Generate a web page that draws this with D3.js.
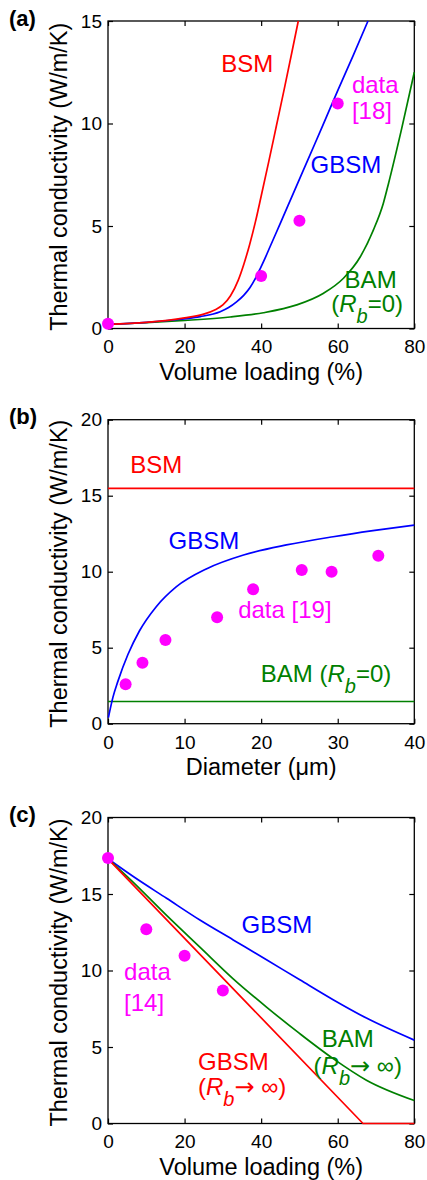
<!DOCTYPE html>
<html>
<head>
<meta charset="utf-8">
<script src="https://cdn.jsdelivr.net/npm/d3@7"></script>
<style>
  body { margin: 0; background: #fff; }
  svg { display: block; font-family: "Liberation Sans", Arial, Helvetica, sans-serif; }
</style>
</head>
<body>
<svg id="chart" width="427" height="1180"></svg>
<script>
// ---- values ----

// (a) thermal conductivity vs volume loading
const aXTicks = [0, 20, 40, 60, 80]
const aYTicks = [0, 5, 10, 15]
const aBsmX = [0, 10, 20, 25, 28, 30, 32, 34, 35.5, 37, 38.5, 40, 42, 44, 46, 48, 49.7]
const aBsmY = [0.2, 0.3, 0.52, 0.7, 0.92, 1.15, 1.6, 2.35, 3.15, 4.1, 5.2, 6.45, 8.15, 9.9, 11.65, 13.45, 15.0]
const aGbsmX = [0, 10, 18.9, 24.1, 29.3, 31.5, 33.65, 35.5, 37.1, 38.5, 39.7, 41, 42.35, 45, 48, 51, 54, 57, 60, 64, 67.9]
const aGbsmY = [0.2, 0.3, 0.45, 0.58, 0.82, 1.02, 1.31, 1.63, 2.0, 2.45, 2.9, 3.42, 4.0, 5.13, 6.42, 7.71, 9.0, 10.3, 11.6, 13.3, 15.0]
const aBamX = [0, 10, 18.9, 31.9, 40.6, 49.3, 56.3, 61.5, 65.9, 69.3, 71.9, 73.3, 76.7, 80]
const aBamY = [0.2, 0.28, 0.38, 0.56, 0.77, 1.15, 1.72, 2.45, 3.5, 4.8, 6.1, 7.1, 9.75, 12.5]
const aDataX = [0, 40, 50, 60]
const aDataY = [0.23, 2.56, 5.26, 10.97]

// (b) thermal conductivity vs diameter
const bXTicks = [0, 10, 20, 30, 40]
const bYTicks = [0, 5, 10, 15, 20]
const bBsmX = [0, 40]
const bBsmY = [15.48, 15.48]
const bGbsmX = [0.05, 0.65, 1.3, 2.6, 4.1, 6.3, 8.9, 12.9, 17.7, 23.3, 29.4, 34.6, 40]
const bGbsmY = [0.4, 1.75, 2.8, 4.55, 6.1, 7.7, 9.0, 10.2, 11.1, 11.76, 12.3, 12.7, 13.07]
const bBamX = [0, 40]
const bBamY = [1.46, 1.46]
const bDataX = [2.3, 4.5, 7.5, 14.25, 18.95, 25.3, 29.2, 35.3]
const bDataY = [2.59, 4.01, 5.51, 7.0, 8.84, 10.11, 10.0, 11.05]

// (c) thermal conductivity vs volume loading (insulating particles)
const cXTicks = [0, 20, 40, 60, 80]
const cYTicks = [0, 5, 10, 15, 20]
const cGbsmX = [0, 6.6, 15.3, 24.0, 32.7, 41.4, 50.1, 58.8, 67.5, 80]
const cGbsmY = [17.3, 16.14, 14.72, 13.3, 12.0, 10.7, 9.39, 8.09, 6.89, 5.45]
const cBamX = [0, 6.6, 15.3, 24.0, 32.7, 41.4, 50.1, 58.8, 67.5, 80]
const cBamY = [17.3, 15.76, 13.6, 11.53, 9.46, 7.61, 5.87, 4.24, 2.83, 1.5]
const cGbsmInfX = [0, 66.6, 80]
const cGbsmInfY = [17.3, 0, 0]
const cDataX = [0, 10, 20, 30]
const cDataY = [17.35, 12.7, 10.96, 8.7]

// ---- styling / layout ----
const RED = '#ff0000', BLUE = '#0000ff', GREEN = '#008000', MAGENTA = '#ff00ff'
const LEFT = 108, RIGHT = 414.3
const TICK_FONT = 19, TITLE_FONT = 23.5, NOTE_FONT = 24

const zip = (xs, ys) => xs.map((x, i) => ({ x, y: ys[i] }))

const panels = [
  {
    label: '(a)', top: 21, bottom: 328.5, xDomain: [0, 80], yDomain: [0, 15],
    xTicks: aXTicks, yTicks: aYTicks, xTitle: 'Volume loading (%)',
    series: [
      { pts: zip(aBamX, aBamY), color: GREEN },
      { pts: zip(aGbsmX, aGbsmY), color: BLUE },
      { pts: zip(aBsmX, aBsmY), color: RED }
    ],
    dots: zip(aDataX, aDataY),
    notes: [
      { x: 29.6, y: 12.53, text: 'BSM', color: RED },
      { x: 63.7, y: 11.5, text: 'data', color: MAGENTA },
      { x: 63.7, y: 10.2, text: '[18]', color: MAGENTA },
      { x: 52.9, y: 7.6, text: 'GBSM', color: BLUE },
      { x: 61.8, y: 1.96, text: 'BAM', color: GREEN },
      { x: 58.3, y: 0.82, rb: '=0)', color: GREEN }
    ]
  },
  {
    label: '(b)', top: 419.7, bottom: 723.7, xDomain: [0, 40], yDomain: [0, 20],
    xTicks: bXTicks, yTicks: bYTicks, xTitle: 'Diameter (\u03bcm)',
    series: [
      { pts: zip(bBsmX, bBsmY), color: RED },
      { pts: zip(bBamX, bBamY), color: GREEN },
      { pts: zip(bGbsmX, bGbsmY), color: BLUE }
    ],
    dots: zip(bDataX, bDataY),
    notes: [
      { x: 2.9, y: 16.47, text: 'BSM', color: RED },
      { x: 7.9, y: 11.47, text: 'GBSM', color: BLUE },
      { x: 17.0, y: 6.93, text: 'data [19]', color: MAGENTA },
      { x: 19.95, y: 2.76, text: 'BAM ', rb: '=0)', color: GREEN }
    ]
  },
  {
    label: '(c)', top: 817.5, bottom: 1123.5, xDomain: [0, 80], yDomain: [0, 20],
    xTicks: cXTicks, yTicks: cYTicks, xTitle: 'Volume loading (%)',
    series: [
      { pts: zip(cGbsmX, cGbsmY), color: BLUE },
      { pts: zip(cBamX, cBamY), color: GREEN },
      { pts: zip(cGbsmInfX, cGbsmInfY), color: RED, linear: true }
    ],
    dots: zip(cDataX, cDataY),
    notes: [
      { x: 34.9, y: 12.44, text: 'GBSM', color: BLUE },
      { x: 4.2, y: 9.39, text: 'data', color: MAGENTA },
      { x: 4.2, y: 7.33, text: '[14]', color: MAGENTA },
      { x: 55.8, y: 4.98, text: 'BAM', color: GREEN },
      { x: 53.7, y: 3.25, rb: 'arrow', color: GREEN },
      { x: 23.5, y: 3.5, text: 'GBSM', color: RED },
      { x: 23.5, y: 1.86, rb: 'arrow', color: RED }
    ]
  }
]

const svg = d3.select('#chart')
svg.append('rect').attr('width', 427).attr('height', 1180).attr('fill', '#fff')

function drawNote(g, n, x, y) {
  const t = g.append('text')
    .attr('x', x(n.x))
    .attr('y', y(n.y))
    .attr('fill', n.color)
    .style('font-size', NOTE_FONT + 'px')
  if (n.text) t.append('tspan').text(n.text)
  if (n.rb) {
    t.append('tspan').text('(')
    t.append('tspan').style('font-style', 'italic').text('R')
    t.append('tspan').style('font-style', 'italic').style('font-size', '20px').attr('dy', 11).text('b')
    if (n.rb === 'arrow') {
      t.append('tspan').attr('dy', -11).style('font-family', '"DejaVu Sans"').text('\u2192')
      t.append('tspan').text(' \u221e)')
    } else {
      t.append('tspan').attr('dy', -11).text(n.rb)
    }
  }
}

panels.forEach(p => {
  const x = d3.scaleLinear().domain(p.xDomain).range([LEFT, RIGHT])
  const y = d3.scaleLinear().domain(p.yDomain).range([p.bottom, p.top])
  const g = svg.append('g')

  // axes: inward ticks on all four sides
  const styleAxis = sel => {
    sel.attr('font-family', null).attr('font-size', null)
    sel.select('.domain').remove()
    sel.selectAll('line').attr('stroke', '#000').attr('stroke-width', 1.2)
    sel.selectAll('text').attr('fill', '#000').style('font-size', TICK_FONT + 'px')
  }
  g.append('g').attr('transform', `translate(0,${p.bottom})`)
    .call(d3.axisBottom(x).tickValues(p.xTicks).tickSize(-5).tickPadding(11.5))
    .call(styleAxis)
  g.append('g').attr('transform', `translate(0,${p.top})`)
    .call(d3.axisTop(x).tickValues(p.xTicks).tickSize(-5).tickFormat(''))
    .call(styleAxis)
  g.append('g').attr('transform', `translate(${LEFT},0)`)
    .call(d3.axisLeft(y).tickValues(p.yTicks).tickSize(-5).tickPadding(6))
    .call(styleAxis)
  g.append('g').attr('transform', `translate(${RIGHT},0)`)
    .call(d3.axisRight(y).tickValues(p.yTicks).tickSize(-5).tickFormat(''))
    .call(styleAxis)

  g.append('rect')
    .attr('x', LEFT).attr('y', p.top)
    .attr('width', RIGHT - LEFT).attr('height', p.bottom - p.top)
    .attr('fill', 'none').attr('stroke', '#000').attr('stroke-width', 1.3)

  // axis titles
  g.append('text')
    .attr('x', (LEFT + RIGHT) / 2)
    .attr('y', p.bottom + 51.5)
    .attr('text-anchor', 'middle')
    .style('font-size', TITLE_FONT + 'px')
    .text(p.xTitle)
  g.append('text')
    .attr('transform', `translate(67,${(p.top + p.bottom) / 2 + 2}) rotate(-90)`)
    .attr('text-anchor', 'middle')
    .style('font-size', TITLE_FONT + 'px')
    .text('Thermal conductivity (W/m/K)')

  g.append('text')
    .attr('x', 9).attr('y', p.top + 4.5)
    .style('font-size', '22px').style('font-weight', 'bold')
    .text(p.label)

  // model curves
  p.series.forEach(s => {
    const line = d3.line()
      .x(d => x(d.x))
      .y(d => y(d.y))
      .curve(s.linear ? d3.curveLinear : d3.curveMonotoneX)
    g.append('path')
      .datum(s.pts)
      .attr('d', line)
      .attr('fill', 'none')
      .attr('stroke', s.color)
      .attr('stroke-width', 1.7)
  })

  // measured data
  g.selectAll('circle.pt')
    .data(p.dots)
    .enter().append('circle')
      .attr('class', 'pt')
      .attr('cx', d => x(d.x))
      .attr('cy', d => y(d.y))
      .attr('r', 6)
      .attr('fill', MAGENTA)

  p.notes.forEach(n => drawNote(g, n, x, y))
})
</script>
</body>
</html>
